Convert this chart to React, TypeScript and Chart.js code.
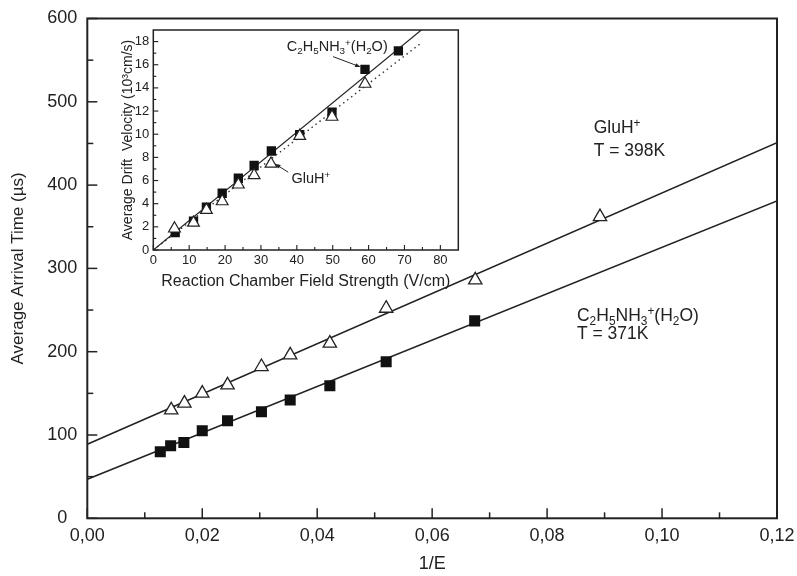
import React, { useEffect, useRef } from 'react';
import { Chart, registerables } from 'chart.js';
Chart.register(...registerables);

// ---------- Main chart data ----------
const mainXTickStep = 0.02;
const mainYTickStep = 100;
const ethX = [0.0127, 0.0145, 0.0168, 0.02, 0.0244, 0.0303, 0.0353, 0.0422, 0.052, 0.0674];
const ethY = [80, 87, 91, 105, 117, 128, 142, 159, 188, 237];
const gluX = [0.0146, 0.0169, 0.02, 0.0244, 0.0303, 0.0353, 0.0422, 0.052, 0.0675, 0.0892];
const gluY = [130, 138, 150, 160, 182, 196, 210, 252, 286, 362];
const gluFitX = [0, 0.12];
const gluFitY = [89, 451];
const ethFitX = [0, 0.12];
const ethFitY = [47, 381];

// ---------- Inset data ----------
const insEthX = [6.1, 11.2, 14.8, 19.2, 23.7, 28.1, 32.9, 40.8, 49.8, 59.0, 68.3];
const insEthY = [1.5, 2.5, 3.7, 4.9, 6.2, 7.3, 8.55, 9.95, 11.9, 15.6, 17.2];
const insGluX = [5.9, 11.2, 14.8, 19.2, 23.7, 28.1, 32.8, 40.8, 49.8, 59.0];
const insGluY = [1.85, 2.35, 3.45, 4.2, 5.65, 6.45, 7.45, 9.85, 11.5, 14.35];
const insEthFitX = [0, 76];
const insEthFitY = [0, 19.33];
const insGluFitX = [0, 74.2];
const insGluFitY = [0, 17.77];

const FONT = '"Liberation Sans", Arial, Helvetica, sans-serif';
const INK = '#222';

type Seg = [string, number]; // 0 normal, 1 subscript, 2 superscript
const ethLabel: Seg[] = [['C', 0], ['2', 1], ['H', 0], ['5', 1], ['NH', 0], ['3', 1], ['+', 2], ['(H', 0], ['2', 1], ['O)', 0]];
const gluLabel: Seg[] = [['GluH', 0], ['+', 2]];

function drawRich(ctx: CanvasRenderingContext2D, segs: Seg[], x: number, y: number, size: number) {
  let cx = x;
  ctx.textAlign = 'left';
  ctx.textBaseline = 'alphabetic';
  for (const [t, k] of segs) {
    const s = k ? size * 0.68 : size;
    ctx.font = `${s}px ${FONT}`;
    const dy = k === 1 ? size * 0.22 : k === 2 ? -size * 0.36 : 0;
    ctx.fillText(t, cx, y + dy);
    cx += ctx.measureText(t).width;
  }
}

function drawArrow(ctx: CanvasRenderingContext2D, x1: number, y1: number, x2: number, y2: number, head: number) {
  const ang = Math.atan2(y2 - y1, x2 - x1);
  ctx.beginPath();
  ctx.moveTo(x1, y1);
  ctx.lineTo(x2 - Math.cos(ang) * head * 0.8, y2 - Math.sin(ang) * head * 0.8);
  ctx.stroke();
  ctx.beginPath();
  ctx.moveTo(x2, y2);
  ctx.lineTo(x2 - head * Math.cos(ang - 0.35), y2 - head * Math.sin(ang - 0.35));
  ctx.lineTo(x2 - head * Math.cos(ang + 0.35), y2 - head * Math.sin(ang + 0.35));
  ctx.closePath();
  ctx.fill();
}

function frameTicksPlugin(major: number, minor: number, lw: number) {
  return {
    id: 'frameTicks',
    afterDatasetsDraw(chart: any) {
      const { ctx, chartArea: a, scales } = chart;
      ctx.save();
      ctx.strokeStyle = INK;
      ctx.lineWidth = lw;
      ctx.strokeRect(a.left, a.top, a.right - a.left, a.bottom - a.top);
      ctx.lineWidth = Math.max(1, lw * 0.75);
      const doAxis = (scale: any, horiz: boolean) => {
        const vals: number[] = scale.ticks.map((t: any) => t.value);
        const minors: number[] = [];
        for (let i = 0; i + 1 < vals.length; i++) minors.push((vals[i] + vals[i + 1]) / 2);
        const draw = (v: number, len: number) => {
          const p = scale.getPixelForValue(v);
          ctx.beginPath();
          if (horiz) {
            ctx.moveTo(p, a.bottom);
            ctx.lineTo(p, a.bottom - len);
          } else {
            ctx.moveTo(a.left, p);
            ctx.lineTo(a.left + len, p);
          }
          ctx.stroke();
        };
        vals.forEach((v) => draw(v, major));
        minors.forEach((v) => draw(v, minor));
      };
      doAxis(scales.x, true);
      doAxis(scales.y, false);
      ctx.restore();
    },
  };
}

const mainAnnotations = {
  id: 'mainAnn',
  afterDatasetsDraw(chart: any) {
    const { ctx, scales } = chart;
    const X = (v: number) => scales.x.getPixelForValue(v);
    const Y = (v: number) => scales.y.getPixelForValue(v);
    ctx.save();
    ctx.fillStyle = INK;
    drawRich(ctx, gluLabel, X(0.0881), Y(462), 17.5);
    drawRich(ctx, [['T = 398K', 0]], X(0.0881), Y(435), 17.5);
    drawRich(ctx, ethLabel, X(0.0852), Y(236.5), 17.5);
    drawRich(ctx, [['T = 371K', 0]], X(0.0852), Y(214.8), 17.5);
    ctx.restore();
  },
};

const insetAnnotations = {
  id: 'insetAnn',
  afterDatasetsDraw(chart: any) {
    const { ctx, scales } = chart;
    const X = (v: number) => scales.x.getPixelForValue(v);
    const Y = (v: number) => scales.y.getPixelForValue(v);
    ctx.save();
    ctx.fillStyle = INK;
    ctx.strokeStyle = INK;
    ctx.lineWidth = 1;
    drawRich(ctx, ethLabel, X(37.2), Y(17.2), 14.5);
    drawRich(ctx, gluLabel, X(38.5), Y(5.75), 14.5);
    drawArrow(ctx, X(50.1), Y(16.7), X(57.8), Y(15.8), 6);
    drawArrow(ctx, X(37.6), Y(6.72), X(33.9), Y(7.44), 6);
    ctx.restore();
  },
};

const toPts = (xs: number[], ys: number[]) => xs.map((x, i) => ({ x, y: ys[i] }));

const zeroPad = (s: any) => {
  s.paddingLeft = 0;
  s.paddingRight = 0;
  s.paddingTop = 0;
  s.paddingBottom = 0;
};

export default function App() {
  const mainRef = useRef<HTMLCanvasElement>(null);
  const insetRef = useRef<HTMLCanvasElement>(null);

  useEffect(() => {
    document.body.style.margin = '0';
    const main = new Chart(mainRef.current as HTMLCanvasElement, {
      type: 'scatter',
      data: {
        datasets: [
          {
            data: toPts(ethX, ethY),
            pointStyle: 'rect',
            pointRadius: 7.8,
            backgroundColor: '#111',
            borderColor: '#111',
            borderWidth: 0,
          },
          {
            data: toPts(gluX, gluY),
            pointStyle: 'triangle',
            pointRadius: 7.7,
            backgroundColor: '#fff',
            borderColor: INK,
            borderWidth: 1.3,
          },
          {
            data: toPts(gluFitX, gluFitY),
            showLine: true,
            pointRadius: 0,
            borderColor: INK,
            borderWidth: 1.6,
          },
          {
            data: toPts(ethFitX, ethFitY),
            showLine: true,
            pointRadius: 0,
            borderColor: INK,
            borderWidth: 1.6,
          },
        ],
      } as any,
      options: {
        animation: false,
        responsive: false,
        maintainAspectRatio: false,
        layout: { padding: { left: 0, top: 18.5, right: 20, bottom: 0 } },
        plugins: { legend: { display: false }, tooltip: { enabled: false } },
        scales: {
          x: {
            type: 'linear',
            min: 0,
            max: 0.12,
            grid: { display: false, drawTicks: false },
            border: { display: false },
            ticks: {
              stepSize: mainXTickStep,
              padding: 7,
              color: INK,
              font: { family: FONT, size: 18 },
              callback: (v: any) => Number(v).toFixed(2).replace('.', ','),
            },
            title: {
              display: true,
              text: '1/E',
              color: INK,
              font: { family: FONT, size: 18 },
              padding: { top: 0, bottom: 1 },
            },
            afterFit: (s: any) => {
              s.height = 57.7;
              zeroPad(s);
            },
          },
          y: {
            type: 'linear',
            min: 0,
            max: 600,
            grid: { display: false, drawTicks: false },
            border: { display: false },
            ticks: {
              stepSize: mainYTickStep,
              padding: 10,
              crossAlign: 'center',
              color: INK,
              font: { family: FONT, size: 18 },
            },
            title: {
              display: true,
              text: 'Average Arrival Time (µs)',
              color: INK,
              font: { family: FONT, size: 17 },
              padding: { top: 8, bottom: 0 },
            },
            afterFit: (s: any) => {
              s.width = 87.3;
              zeroPad(s);
            },
          },
        },
      } as any,
      plugins: [frameTicksPlugin(10, 6, 2), mainAnnotations],
    });

    const inset = new Chart(insetRef.current as HTMLCanvasElement, {
      type: 'scatter',
      data: {
        datasets: [
          {
            data: toPts(insGluX, insGluY),
            pointStyle: 'triangle',
            pointRadius: 6.8,
            backgroundColor: '#fff',
            borderColor: INK,
            borderWidth: 1.2,
          },
          {
            data: toPts(insEthX, insEthY),
            pointStyle: 'rect',
            pointRadius: 6.6,
            backgroundColor: '#111',
            borderColor: '#111',
            borderWidth: 0,
          },
          {
            data: toPts(insEthFitX, insEthFitY),
            showLine: true,
            pointRadius: 0,
            borderColor: INK,
            borderWidth: 1.2,
          },
          {
            data: toPts(insGluFitX, insGluFitY),
            showLine: true,
            pointRadius: 0,
            borderColor: '#333',
            borderWidth: 1.4,
            borderDash: [1.5, 3.5],
          },
        ],
      } as any,
      options: {
        animation: false,
        responsive: false,
        maintainAspectRatio: false,
        layout: { padding: { left: 0, top: 7.3, right: 8.7, bottom: 0 } },
        plugins: { legend: { display: false }, tooltip: { enabled: false } },
        scales: {
          x: {
            type: 'linear',
            min: 0,
            max: 85,
            grid: { display: false, drawTicks: false },
            border: { display: false },
            ticks: {
              stepSize: 10,
              includeBounds: false,
              padding: 2.2,
              color: INK,
              font: { family: FONT, size: 13 },
            },
            title: {
              display: true,
              text: 'Reaction Chamber Field Strength (V/cm)',
              color: INK,
              font: { family: FONT, size: 16 },
              padding: { top: 0, bottom: 5.7 },
            },
            afterFit: (s: any) => {
              s.height = 47;
              zeroPad(s);
            },
          },
          y: {
            type: 'linear',
            min: 0,
            max: 19,
            grid: { display: false, drawTicks: false },
            border: { display: false },
            ticks: {
              stepSize: 2,
              includeBounds: false,
              padding: 4,
              color: INK,
              font: { family: FONT, size: 13 },
            },
            title: {
              display: true,
              text: 'Average Drift  Velocity (10³cm/s)',
              color: INK,
              font: { family: FONT, size: 14 },
              padding: { top: 14.6, bottom: 0 },
            },
            afterFit: (s: any) => {
              s.width = 48.3;
              zeroPad(s);
            },
          },
        },
      } as any,
      plugins: [frameTicksPlugin(5, 3, 1.5), insetAnnotations],
    });

    return () => {
      main.destroy();
      inset.destroy();
    };
  }, []);

  return (
    <div style={{ position: 'relative', width: 797, height: 576, background: '#fff', overflow: 'hidden' }}>
      <canvas
        ref={mainRef}
        width={797}
        height={576}
        style={{ position: 'absolute', left: 0, top: 0, width: 797, height: 576 }}
      />
      <canvas
        ref={insetRef}
        width={362}
        height={275}
        style={{ position: 'absolute', left: 105, top: 22, width: 362, height: 275 }}
      />
    </div>
  );
}
